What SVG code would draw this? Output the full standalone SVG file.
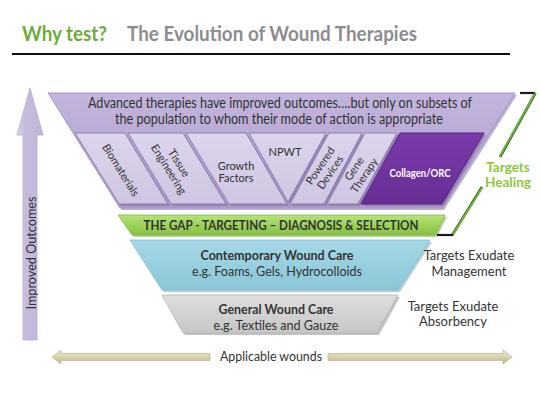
<svg xmlns="http://www.w3.org/2000/svg" width="540" height="405" viewBox="0 0 540 405">
<style>
text{font-family:Lato,"Open Sans","Liberation Sans",sans-serif;fill:#333333}
.b{font-weight:bold}
.cell{fill:url(#gCell);stroke:#8f7fb0;stroke-width:1}
.shadow{fill:#7d6c9c;opacity:0.55}
.ct{font-size:11px}
.side{font-size:13px}
</style>
<defs>
<linearGradient id="gBand" x1="0" y1="0" x2="0" y2="1"><stop offset="0" stop-color="#c3b5dc"/><stop offset="1" stop-color="#ac9bca"/></linearGradient>
<linearGradient id="gCell" x1="0" y1="0" x2="0" y2="1"><stop offset="0" stop-color="#ddd5ec"/><stop offset="1" stop-color="#cfc5e1"/></linearGradient>
<linearGradient id="gCol" x1="0" y1="0" x2="0" y2="1"><stop offset="0" stop-color="#7a3bab"/><stop offset="1" stop-color="#672d94"/></linearGradient>
<linearGradient id="gGreen" x1="0" y1="0" x2="0" y2="1"><stop offset="0" stop-color="#b7e27c"/><stop offset="0.5" stop-color="#9cd35a"/><stop offset="1" stop-color="#86c043"/></linearGradient>
<linearGradient id="gBlue" x1="0" y1="0" x2="0" y2="1"><stop offset="0" stop-color="#a6d8e6"/><stop offset="1" stop-color="#8ac6d8"/></linearGradient>
<linearGradient id="gGray" x1="0" y1="0" x2="0" y2="1"><stop offset="0" stop-color="#dedede"/><stop offset="1" stop-color="#c6c6c6"/></linearGradient>
<linearGradient id="gTan" x1="0" y1="0" x2="0" y2="1"><stop offset="0" stop-color="#ece8cf"/><stop offset="0.5" stop-color="#d9d3ae"/><stop offset="1" stop-color="#b9b289"/></linearGradient>
<linearGradient id="gUp" x1="0" y1="0" x2="1" y2="0"><stop offset="0" stop-color="#ddd5ea"/><stop offset="0.3" stop-color="#c8bcdd"/><stop offset="1" stop-color="#c2b5d8"/></linearGradient>
</defs>

<g id="title">
<text x="22" y="41" class="b" font-size="20" style="fill:#6cab3b" textLength="85" lengthAdjust="spacingAndGlyphs">Why test?</text>
<text x="127" y="41" class="b" font-size="20" style="fill:#8c8c90" textLength="290" lengthAdjust="spacingAndGlyphs">The Evolution of Wound Therapies</text>
<line x1="12" y1="54" x2="510" y2="54" stroke="#111" stroke-width="1.8"/>
</g>

<g id="improved-outcomes">
<polygon points="30,88 43,135 37,135 37,340 23,340 23,135 17,135" fill="url(#gUp)" stroke="#b7a9cf" stroke-width="0.8"/>
<text transform="translate(36,253) rotate(-90)" text-anchor="middle" font-size="13" textLength="113" lengthAdjust="spacingAndGlyphs">Improved Outcomes</text>
</g>

<g id="advanced">
<polygon points="50,95 517,95 444,210 122,210" fill="#8f7fb0" opacity="0.6"/>
<polygon points="48,93 515,93 442,208 120,208" fill="url(#gBand)" stroke="#a897c6" stroke-width="1"/>
<text x="280" y="108" text-anchor="middle" font-size="14.5" textLength="384" lengthAdjust="spacingAndGlyphs">Advanced therapies have improved outcomes….but only on subsets of</text>
<text x="279" y="124" text-anchor="middle" font-size="14.5" textLength="328" lengthAdjust="spacingAndGlyphs">the population to whom their mode of action is appropriate</text>
</g>

<g id="biomaterials">
<polygon class="shadow" points="77,135 127,135 170,206 121,206"/>
<polygon class="cell" points="75,133 125,133 168,204 119,204"/>
<text class="ct" transform="translate(121,170) rotate(58)" text-anchor="middle" y="4">Biomaterials</text>
</g>
<g id="tissue-engineering">
<polygon class="shadow" points="130,135 185,135 228,206 173,206"/>
<polygon class="cell" points="128,133 183,133 226,204 171,204"/>
<text class="ct" transform="translate(174,166) rotate(58)" text-anchor="middle"><tspan x="0" y="-2">Tissue</tspan><tspan x="0" y="10">Engineering</tspan></text>
</g>
<g id="growth-factors">
<polygon class="shadow" points="188,135 248,135 289,206 231,206"/>
<polygon class="cell" points="186,133 246,133 287,204 229,204"/>
<text class="ct" text-anchor="middle"><tspan x="236" y="170">Growth</tspan><tspan x="236" y="182">Factors</tspan></text>
</g>
<g id="npwt">
<polygon class="shadow" points="251,135 328,135 290,204"/>
<polygon class="cell" points="249,133 326,133 288,202"/>
<text class="ct" x="285" y="156" text-anchor="middle">NPWT</text>
</g>
<g id="powered-devices">
<polygon class="shadow" points="331,135 364,135 326,206 292,206"/>
<polygon class="cell" points="329,133 362,133 324,204 290,204"/>
<text class="ct" transform="translate(325,169) rotate(-56)" text-anchor="middle"><tspan x="0" y="-2">Powered</tspan><tspan x="0" y="10">Devices</tspan></text>
</g>
<g id="gene-therapy">
<polygon class="shadow" points="367,135 399,135 360,206 329,206"/>
<polygon class="cell" points="365,133 397,133 358,204 327,204"/>
<text class="ct" transform="translate(359,172) rotate(-56)" text-anchor="middle"><tspan x="0" y="-2">Gene</tspan><tspan x="0" y="10">Therapy</tspan></text>
</g>
<g id="collagen-orc">
<polygon class="shadow" points="402,135 486,135 444,206 363,206"/>
<polygon points="400,133 484,133 442,204 361,204" fill="url(#gCol)" stroke="#5a2585" stroke-width="1"/>
<text x="420" y="177" text-anchor="middle" class="b" font-size="12" style="fill:#ffffff" textLength="61" lengthAdjust="spacingAndGlyphs">Collagen/ORC</text>
</g>

<g id="the-gap">
<polygon points="120,217 447,217 437,237 134,237" fill="#6f9e3c" opacity="0.5"/>
<polygon points="118,215 445,215 435,235 132,235" fill="url(#gGreen)" stroke="#7fb83f" stroke-width="0.8"/>
<text x="281" y="230" text-anchor="middle" class="b" font-size="13" textLength="275" lengthAdjust="spacingAndGlyphs">THE GAP - TARGETING – DIAGNOSIS &amp; SELECTION</text>
</g>

<g id="contemporary">
<polygon points="132,242 432,242 400,292 164,292" fill="#6a9fae" opacity="0.5"/>
<polygon points="130,240 430,240 398,290 162,290" fill="url(#gBlue)" stroke="#82bdcf" stroke-width="0.8"/>
<text x="277" y="260" text-anchor="middle" class="b" font-size="13.5" textLength="153" lengthAdjust="spacingAndGlyphs">Contemporary Wound Care</text>
<text x="277" y="276" text-anchor="middle" font-size="13.5" textLength="170" lengthAdjust="spacingAndGlyphs">e.g. Foams, Gels, Hydrocolloids</text>
</g>

<g id="general">
<polygon points="164,297 400,297 379,335 185,335" fill="#8a8a8a" opacity="0.5"/>
<polygon points="162,295 398,295 377,333 183,333" fill="url(#gGray)" stroke="#b5b5b5" stroke-width="0.8"/>
<text x="276" y="314" text-anchor="middle" class="b" font-size="13.5" textLength="115" lengthAdjust="spacingAndGlyphs">General Wound Care</text>
<text x="276" y="330" text-anchor="middle" font-size="13.5" textLength="125" lengthAdjust="spacingAndGlyphs">e.g. Textiles and Gauze</text>
</g>

<g id="labels">
<text class="b" font-size="13.5" style="fill:#8cc63f" text-anchor="middle"><tspan x="508" y="172">Targets</tspan><tspan x="508" y="187">Healing</tspan></text>
<text class="side" text-anchor="middle"><tspan x="469" y="260">Targets Exudate</tspan><tspan x="469" y="276">Management</tspan></text>
<text class="side" text-anchor="middle"><tspan x="453" y="311">Targets Exudate</tspan><tspan x="453" y="326">Absorbency</tspan></text>
</g>

<g id="connectors">
<g id="bracket" fill="none" stroke-linecap="butt">
<line x1="520" y1="93" x2="535" y2="93" stroke="#1a1a1a" stroke-width="2.2"/>
<line x1="535.5" y1="93" x2="500" y2="157" stroke="#2f5a18" stroke-width="2.6"/>
<line x1="535" y1="93.5" x2="499.5" y2="157" stroke="#74b843" stroke-width="1.6"/>
<line x1="482" y1="187" x2="452" y2="235.5" stroke="#2f5a18" stroke-width="2.6"/>
<line x1="482.5" y1="187" x2="452.5" y2="235" stroke="#74b843" stroke-width="1.6"/>
<line x1="437" y1="235" x2="453" y2="235" stroke="#1a1a1a" stroke-width="2.2"/>
</g>
<g id="applicable-wounds">
<polygon points="52,357 61,350 61,353.5 210,353.5 210,360.5 61,360.5 61,364" fill="url(#gTan)" stroke="#b3ac85" stroke-width="0.6"/>
<polygon points="512,357 503,350 503,353.5 328,353.5 328,360.5 503,360.5 503,364" fill="url(#gTan)" stroke="#b3ac85" stroke-width="0.6"/>
<text x="271" y="361" text-anchor="middle" font-size="13.5" textLength="102" lengthAdjust="spacingAndGlyphs">Applicable wounds</text>
</g>
</g>
</svg>
